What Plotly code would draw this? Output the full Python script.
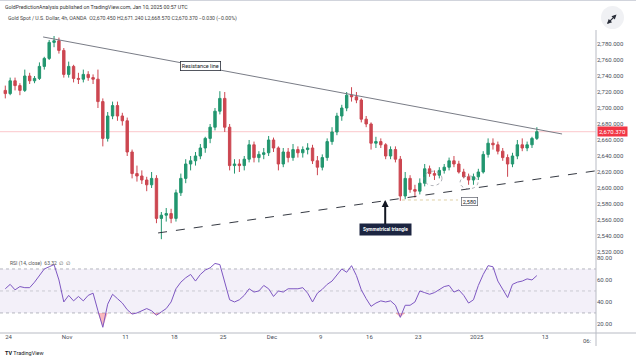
import plotly.graph_objects as go

# ---------------- data ----------------
trading_days = [
    "2024-10-24", "2024-10-25", "2024-10-28", "2024-10-29", "2024-10-30", "2024-10-31",
    "2024-11-01", "2024-11-04", "2024-11-05", "2024-11-06", "2024-11-07", "2024-11-08",
    "2024-11-11", "2024-11-12", "2024-11-13", "2024-11-14", "2024-11-15", "2024-11-18",
    "2024-11-19", "2024-11-20", "2024-11-21", "2024-11-22", "2024-11-25", "2024-11-26",
    "2024-11-27", "2024-11-28", "2024-11-29", "2024-12-02", "2024-12-03", "2024-12-04",
    "2024-12-05", "2024-12-06", "2024-12-09", "2024-12-10", "2024-12-11", "2024-12-12",
    "2024-12-13", "2024-12-16", "2024-12-17", "2024-12-18", "2024-12-19", "2024-12-20",
    "2024-12-23", "2024-12-24", "2024-12-26", "2024-12-27", "2024-12-30", "2024-12-31",
    "2025-01-02", "2025-01-03", "2025-01-06", "2025-01-07", "2025-01-08", "2025-01-09",
]
first_bar = "2024-10-23 16:00"
last_bar = "2025-01-10 04:00"
bar_times = [first_bar] + [d + h for d in trading_days for h in (" 04:00", " 16:00")] + [last_bar]

opens = [2722, 2718, 2734, 2728, 2722, 2740, 2734, 2737, 2752, 2762, 2782, 2784, 2772, 2742, 2752, 2737,
         2736, 2742, 2738, 2736, 2708, 2662, 2690, 2703, 2690, 2684, 2645, 2618, 2615, 2610, 2604, 2612,
         2562, 2566, 2568, 2562, 2594, 2612, 2630, 2634, 2640, 2650, 2662, 2676, 2696, 2712, 2676, 2628,
         2630, 2628, 2636, 2654, 2638, 2642, 2644, 2660, 2650, 2630, 2645, 2638, 2648, 2644, 2648, 2650,
         2634, 2626, 2638, 2658, 2670, 2690, 2700, 2716, 2714, 2710, 2686, 2680, 2656, 2658, 2654, 2640,
         2648, 2636, 2590, 2612, 2598, 2596, 2606, 2624, 2618, 2616, 2622, 2626, 2634, 2630, 2620, 2614,
         2610, 2614, 2620, 2642, 2656, 2654, 2646, 2638, 2630, 2640, 2654, 2650, 2654, 2662]
highs = [2728, 2738, 2738, 2731, 2748, 2744, 2740, 2757, 2764, 2785, 2790, 2788, 2775, 2758, 2754, 2744,
         2748, 2746, 2742, 2748, 2712, 2695, 2708, 2708, 2694, 2688, 2648, 2628, 2622, 2614, 2620, 2616,
         2570, 2575, 2574, 2598, 2618, 2636, 2640, 2645, 2655, 2664, 2680, 2700, 2721, 2720, 2680, 2636,
         2636, 2640, 2660, 2658, 2646, 2650, 2665, 2663, 2652, 2650, 2650, 2655, 2652, 2652, 2656, 2654,
         2640, 2642, 2662, 2676, 2694, 2704, 2720, 2726, 2720, 2712, 2690, 2682, 2664, 2662, 2656, 2652,
         2652, 2640, 2620, 2616, 2604, 2612, 2630, 2628, 2622, 2626, 2630, 2638, 2640, 2634, 2624, 2618,
         2618, 2624, 2646, 2662, 2662, 2658, 2650, 2642, 2644, 2660, 2662, 2658, 2664, 2676]
lows = [2712, 2716, 2722, 2716, 2720, 2730, 2731, 2735, 2748, 2760, 2776, 2768, 2738, 2738, 2732, 2730,
        2732, 2734, 2730, 2700, 2652, 2658, 2686, 2684, 2678, 2640, 2612, 2608, 2605, 2596, 2600, 2556,
        2536, 2558, 2556, 2558, 2590, 2606, 2622, 2628, 2636, 2644, 2656, 2672, 2692, 2670, 2622, 2618,
        2620, 2622, 2632, 2632, 2632, 2636, 2640, 2645, 2622, 2626, 2632, 2634, 2638, 2638, 2642, 2630,
        2616, 2622, 2634, 2654, 2666, 2684, 2696, 2708, 2706, 2682, 2676, 2648, 2650, 2650, 2636, 2636,
        2632, 2584, 2586, 2594, 2588, 2592, 2602, 2614, 2610, 2612, 2618, 2622, 2626, 2618, 2612, 2604,
        2604, 2610, 2618, 2638, 2648, 2642, 2634, 2614, 2626, 2636, 2646, 2646, 2650, 2660]
closes = [2718, 2734, 2728, 2722, 2740, 2734, 2737, 2752, 2762, 2782, 2784, 2772, 2742, 2752, 2737, 2736,
          2742, 2738, 2736, 2708, 2662, 2690, 2703, 2690, 2684, 2645, 2618, 2615, 2610, 2604, 2612, 2562,
          2566, 2568, 2562, 2594, 2612, 2630, 2634, 2640, 2650, 2662, 2676, 2696, 2712, 2676, 2628, 2630,
          2628, 2636, 2654, 2638, 2642, 2644, 2660, 2650, 2630, 2645, 2638, 2648, 2644, 2648, 2650, 2634,
          2626, 2638, 2658, 2670, 2690, 2700, 2716, 2714, 2710, 2686, 2680, 2656, 2658, 2654, 2640, 2648,
          2636, 2590, 2612, 2598, 2596, 2606, 2624, 2618, 2616, 2622, 2626, 2634, 2630, 2620, 2614, 2610,
          2614, 2620, 2642, 2656, 2654, 2646, 2638, 2630, 2640, 2654, 2650, 2654, 2662, 2670.37]
rsi = [52, 56, 51, 54, 53, 53, 58, 64, 70, 72, 74, 60, 40, 46, 41, 45,
       41, 46, 48, 32, 17, 38, 47, 43, 39, 33, 29, 30, 32, 34, 32, 28,
       31, 34, 40, 52, 58, 62, 65, 59, 65, 69, 71, 75, 74, 58, 42, 40,
       42, 46, 52, 49, 50, 55, 52, 45, 50, 49, 52, 52, 52, 53, 48, 40,
       48, 51.5, 56, 59, 64, 70, 67, 73, 64, 51, 43, 36, 39, 41, 40, 41,
       37, 26, 37, 37, 40, 50, 48.5, 47, 48.5, 51, 54, 55, 49, 51, 46, 39,
       42, 55, 65, 73, 72, 59, 52, 44, 56, 58, 59, 61, 60, 64]

last_price = 2670.37
price_ticks = list(range(2520, 2781, 20))
rsi_ticks = [20, 40, 60, 80]
date_tickvals = ["2024-10-24", "2024-11-01", "2024-11-11", "2024-11-18", "2024-11-25", "2024-12-02",
                 "2024-12-09", "2024-12-16", "2024-12-23", "2025-01-02", "2025-01-13"]
date_ticktext = ["24", "Nov", "11", "18", "25", "Dec", "9", "16", "23", "2025", "13"]

resistance = (("2024-10-29 13:00", 2788.8), ("2025-01-14 18:00", 2667.5))
support = (("2024-11-14 08:00", 2543.8), ("2025-01-20 05:30", 2621.5))

# ---------------- figure ----------------
FONT = "Roboto"
UP, DOWN = "#22966f", "#cc4650"
x_range = ["2024-10-23 03:00", "2025-01-20 05:30"]
breaks = [dict(bounds=["sat", "mon"]), dict(values=["2024-12-25", "2025-01-01"])]

fig = go.Figure()
fig.add_trace(go.Candlestick(
    x=bar_times, open=opens, high=highs, low=lows, close=closes,
    increasing=dict(line=dict(color=UP, width=1), fillcolor=UP),
    decreasing=dict(line=dict(color=DOWN, width=1), fillcolor=DOWN),
    xaxis="x", yaxis="y", showlegend=False, hoverinfo="skip"))

rsi_floor = [30 for _ in rsi]
rsi_low = [min(r, 30) for r in rsi]
fig.add_trace(go.Scatter(x=bar_times, y=rsi_floor, mode="lines", line=dict(width=0),
                         xaxis="x2", yaxis="y2", showlegend=False, hoverinfo="skip"))
fig.add_trace(go.Scatter(x=bar_times, y=rsi_low, mode="lines", line=dict(width=0),
                         fill="tonexty", fillcolor="rgba(242,54,69,0.35)",
                         xaxis="x2", yaxis="y2", showlegend=False, hoverinfo="skip"))
fig.add_trace(go.Scatter(x=bar_times, y=rsi, mode="lines", line=dict(color="#7e57c2", width=1),
                         xaxis="x2", yaxis="y2", showlegend=False, hoverinfo="skip"))

axis_font = dict(family=FONT, size=6, color="#4a4e59")
split = 0.2517
fig.update_layout(
    width=636, height=360,
    margin=dict(l=0, r=40, t=30, b=28),
    paper_bgcolor="white", plot_bgcolor="white",
    font=dict(family=FONT, size=6, color="#333"),
    xaxis=dict(domain=[0, 1], anchor="y", range=x_range, rangebreaks=breaks,
               showticklabels=False, showgrid=False, zeroline=False, showline=False,
               rangeslider=dict(visible=False)),
    xaxis2=dict(domain=[0, 1], anchor="y2", matches="x", range=x_range, rangebreaks=breaks,
                tickmode="array", tickvals=date_tickvals, ticktext=date_ticktext,
                tickfont=axis_font, ticks="", showgrid=False, zeroline=False, showline=False),
    yaxis=dict(domain=[split, 1], anchor="x", side="right", range=[2515, 2797.5],
               tickmode="array", tickvals=price_ticks, tickformat=",.3f", tickfont=axis_font,
               ticks="", showgrid=False, zeroline=False, showline=False),
    yaxis2=dict(domain=[0, split], anchor="x2", side="right", range=[12.7, 81.8],
                tickmode="array", tickvals=rsi_ticks, tickformat=".2f", tickfont=axis_font,
                ticks="", showgrid=False, zeroline=False, showline=False),
)

def px_x(p):
    return p / 596.0

def px_y(p):
    return (332.0 - p) / 302.0

shapes = []
# RSI band and levels
shapes.append(dict(type="rect", xref="x2 domain", yref="y2", x0=0, x1=1, y0=30, y1=70,
                   fillcolor="rgba(126,87,194,0.09)", line=dict(width=0), layer="below"))
for lvl, col in ((70, "#a3a6af"), (50, "rgba(150,153,161,0.55)"), (30, "#a3a6af")):
    shapes.append(dict(type="line", xref="x2 domain", yref="y2", x0=0, x1=1, y0=lvl, y1=lvl,
                       line=dict(color=col, width=0.8, dash="dot"), layer="below"))
# current price line
shapes.append(dict(type="line", xref="x domain", yref="y", x0=0, x1=1, y0=last_price, y1=last_price,
                   line=dict(color="rgba(242,54,69,0.28)", width=1), layer="below"))
# trend lines
shapes.append(dict(type="line", xref="x", yref="y",
                   x0=resistance[0][0], y0=resistance[0][1], x1=resistance[1][0], y1=resistance[1][1],
                   line=dict(color="#6a6d78", width=0.9)))
shapes.append(dict(type="line", xref="x", yref="y",
                   x0=support[0][0], y0=support[0][1], x1=support[1][0], y1=support[1][1],
                   line=dict(color="#1e222d", width=0.9, dash="dash")))
# 2,580 dotted marker
shapes.append(dict(type="line", xref="x", yref="y", x0="2024-12-19 08:00", x1="2024-12-30 02:00",
                   y0=2585, y1=2585, line=dict(color="#d6c48f", width=0.8, dash="dot")))
# ellipses around the lows
shapes.append(dict(type="circle", xref="x", yref="y", x0="2024-12-23 14:00", x1="2024-12-26 10:30",
                   y0=2603, y1=2621, line=dict(color="#8a8d96", width=0.7, dash="dot")))
shapes.append(dict(type="circle", xref="x", yref="y", x0="2024-12-30 07:00", x1="2025-01-02 03:00",
                   y0=2599, y1=2615, line=dict(color="#8a8d96", width=0.7, dash="dot")))
# frame lines
shapes.append(dict(type="line", xref="paper", yref="paper", x0=px_x(596), x1=px_x(596),
                   y0=px_y(30), y1=px_y(346), line=dict(color="#b8bbc4", width=1)))
shapes.append(dict(type="line", xref="paper", yref="paper", x0=0, x1=px_x(636),
                   y0=px_y(333), y1=px_y(333), line=dict(color="#b8bbc4", width=1)))
shapes.append(dict(type="line", xref="paper", yref="paper", x0=0, x1=px_x(636),
                   y0=px_y(0.5), y1=px_y(0.5), line=dict(color="#d1d4dc", width=1)))
# expand icon circle
shapes.append(dict(type="circle", xref="paper", yref="paper", x0=px_x(601), x1=px_x(624),
                   y0=px_y(29), y1=px_y(6), fillcolor="#f0f1f4", line=dict(width=0)))
fig.update_layout(shapes=shapes)

ann = []
ann.append(dict(xref="paper", yref="paper", x=px_x(3), y=px_y(7), xanchor="left", yanchor="middle",
                text="GoldPredictionAnalysis published on TradingView.com, Jan 10, 2025 00:57 UTC",
                showarrow=False, font=dict(family=FONT, size=5.2, color="#333")))
ann.append(dict(xref="paper", yref="paper", x=px_x(6), y=px_y(19), xanchor="left", yanchor="middle",
                text="Gold Spot / U.S. Dollar, 4h, OANDA  O2,670.450 H2,671.240 L2,668.570 C2,670.370 \u22120.030 (\u22120.00%)",
                showarrow=False, font=dict(family=FONT, size=5.2, color="#444")))
ann.append(dict(xref="paper", yref="y", x=1, xshift=1, y=last_price, xanchor="left", yanchor="middle",
                text="2,670.370", showarrow=False, bgcolor="#f23645", borderpad=1,
                font=dict(family=FONT, size=6, color="white")))
ann.append(dict(xref="x", yref="y", x="2024-11-20 17:30", y=2752.5, text="Resistance line",
                showarrow=False, bgcolor="white", bordercolor="#2a2e39", borderwidth=0.8, borderpad=1,
                font=dict(family=FONT, size=5.5, color="#131722")))
ann.append(dict(xref="x", yref="y", x="2024-12-17 14:50", y=2585, ax=0, ay=30,
                text="<b>Symmetrical triangle</b>", showarrow=True, arrowhead=2, arrowsize=0.7,
                arrowwidth=2, arrowcolor="#131722", bgcolor="#1c2541", borderpad=3,
                font=dict(family=FONT, size=4.8, color="white")))
ann.append(dict(xref="x", yref="y", x="2024-12-31 06:00", y=2582.5, text="2,580",
                showarrow=False, bgcolor="white", bordercolor="#5d606b", borderwidth=0.7, borderpad=1,
                font=dict(family=FONT, size=5.5, color="#131722")))
ann.append(dict(xref="paper", yref="paper", x=px_x(8), y=px_y(263), xanchor="left", yanchor="middle",
                text="RSI (14, close)  63.32  \u2205  \u2205", showarrow=False,
                font=dict(family=FONT, size=5, color="#555")))
ann.append(dict(xref="paper", yref="paper", x=px_x(587), y=px_y(340), xanchor="center", yanchor="middle",
                text="06:", showarrow=False, font=axis_font))
ann.append(dict(xref="paper", yref="paper", x=px_x(3), y=px_y(353), xanchor="left", yanchor="middle",
                text="<b>TV</b> TradingView", showarrow=False,
                font=dict(family=FONT, size=5.5, color="#131722")))
ann.append(dict(xref="paper", yref="paper", x=px_x(607), y=px_y(24), ax=11, ay=-11,
                text="", showarrow=True, arrowhead=2, arrowside="end+start",
                arrowsize=0.8, arrowwidth=1.2, arrowcolor="#2a2e39"))
fig.update_layout(annotations=ann)

fig.write_html("out.html", config={"displayModeBar": False},
               post_script="document.body.style.margin='0px';document.body.style.overflow='hidden';")
